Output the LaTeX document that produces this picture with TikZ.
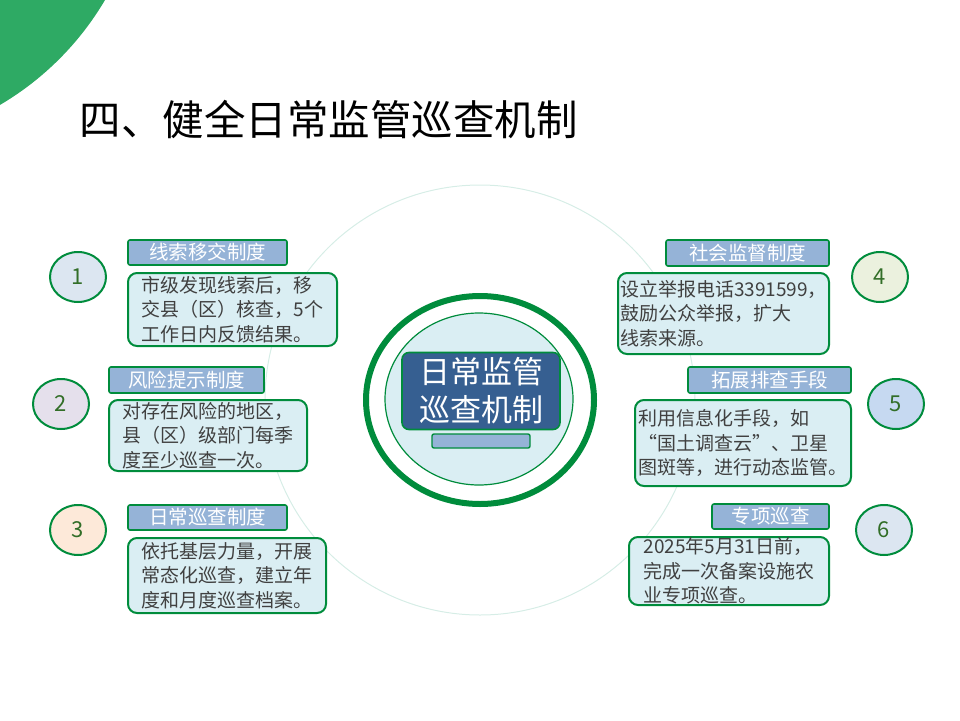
\documentclass[tikz,border=0pt]{standalone}
\usepackage{fontspec}
\setmainfont{Noto Sans CJK SC}
\usepackage{xcolor}
\usepackage{tikz}
\usetikzlibrary{positioning}
\usetikzlibrary{shapes.geometric}
\definecolor{LeafGreen}{RGB}{46,170,100}
\definecolor{RingGreen}{RGB}{0,140,60}
\definecolor{HeadBlue}{RGB}{149,179,215}
\definecolor{PaleBlue}{RGB}{218,238,243}
\definecolor{NavyBlue}{RGB}{54,95,145}
\definecolor{FaintRing}{RGB}{214,237,230}
\definecolor{BodyGray}{RGB}{64,64,64}
\definecolor{NumGreen}{RGB}{50,110,40}
\tikzset{
	headbox/.style={draw=RingGreen, line width=1.6pt, fill=HeadBlue, rounded corners=2pt, inner sep=0pt, text=white, font=\fontsize{19.5}{19.5}\selectfont},
	bodybox/.style={draw=RingGreen, line width=2pt, fill=PaleBlue, rounded corners=9pt, inner sep=0pt, text=BodyGray, align=left, font=\fontsize{19}{24.5}\selectfont},
	numball/.style={draw=RingGreen, line width=2pt, ellipse, inner sep=0pt, minimum width=56pt, minimum height=50pt, text=NumGreen, font=\fontsize{22}{22}\selectfont},
}
\begin{document}
\begin{tikzpicture}[x=1pt, y=-1pt]
\useasboundingbox (0,0) rectangle (960,720);

% corner leaf and title
\fill[LeafGreen] (0,0) -- (105,0) arc[start angle=30.5, end angle=59.5, radius=296] -- cycle;
\node[anchor=west, font=\fontsize{41.5}{41.5}\selectfont] (title) at (76,120) {四、健全日常监管巡查机制};

% center
\draw[FaintRing, line width=1pt] (480,400) circle[radius=215];
\draw[RingGreen, line width=6pt, fill=white] (480,400) ellipse[x radius=114, y radius=104];
\draw[RingGreen, line width=1.2pt, fill=PaleBlue] (479,399) ellipse[x radius=94, y radius=86];
\node[draw=RingGreen, line width=1.6pt, fill=NavyBlue, rounded corners=7pt, minimum width=158pt, minimum height=77pt, inner sep=0pt, text=white, align=center, font=\fontsize{31}{38}\selectfont] (core) at (481,391) {日常监管\\巡查机制};
\node[draw=RingGreen, line width=1.4pt, fill=HeadBlue, rounded corners=2pt, minimum width=98pt, minimum height=14pt, inner sep=0pt] (bar) at (481,441) {};

% left side
\node[numball, fill={rgb,255:red,220;green,230;blue,241}] (n1) at (78,277) {1};
\node[headbox, minimum width=159pt, minimum height=25pt] (h1) at (207.5,252.5) {线索移交制度};
\node[bodybox, minimum width=209pt, minimum height=73pt] (b1) at (232.5,309.5) {市级发现线索后，移\\交县（区）核查，5个\\工作日内反馈结果。};

\node[numball, fill={rgb,255:red,229;green,224;blue,236}] (n2) at (61,404) {2};
\node[headbox, minimum width=155pt, minimum height=26pt] (h2) at (186.5,380) {风险提示制度};
\node[bodybox, minimum width=198pt, minimum height=71pt] (b2) at (208,435.5) {对存在风险的地区，\\县（区）级部门每季\\度至少巡查一次。};

\node[numball, fill={rgb,255:red,253;green,233;blue,217}] (n3) at (78,530) {3};
\node[headbox, minimum width=159pt, minimum height=25pt] (h3) at (207.5,517.5) {日常巡查制度};
\node[bodybox, minimum width=198pt, minimum height=75pt] (b3) at (227,575.5) {依托基层力量，开展\\常态化巡查，建立年\\度和月度巡查档案。};

% right side
\node[numball, fill={rgb,255:red,235;green,241;blue,222}] (n4) at (880,277) {4};
\node[headbox, minimum width=163pt, minimum height=26pt] (h4) at (747.5,253) {社会监督制度};
\node[bodybox, minimum width=211pt, minimum height=81pt] (b4) at (723.5,313.5) {设立举报电话3391599，\\鼓励公众举报，扩大\\线索来源。};

\node[numball, fill={rgb,255:red,198;green,217;blue,241}] (n5) at (896,404) {5};
\node[headbox, minimum width=163pt, minimum height=26pt] (h5) at (769.5,380) {拓展排查手段};
\node[bodybox, minimum width=216pt, minimum height=86pt] (b5) at (743,443) {利用信息化手段，如\\“国土调查云”、卫星\\图斑等，进行动态监管。};

\node[numball, fill={rgb,255:red,220;green,230;blue,241}] (n6) at (884,530) {6};
\node[headbox, minimum width=117pt, minimum height=25pt] (h6) at (770.5,516.5) {专项巡查};
\node[bodybox, minimum width=200pt, minimum height=68pt] (b6) at (729,571) {2025年5月31日前，\\完成一次备案设施农\\业专项巡查。};
\end{tikzpicture}
\end{document}
